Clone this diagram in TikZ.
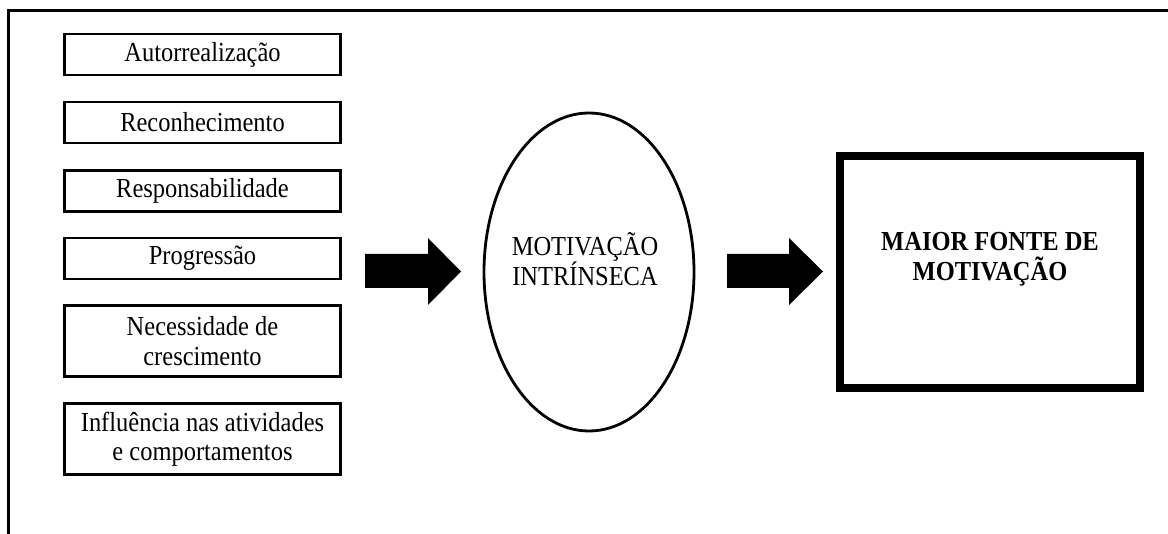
\documentclass[tikz,border=0pt]{standalone}
\usepackage{fontspec}
\setmainfont{Liberation Serif}[FakeStretch=0.89]
\usetikzlibrary{shapes.geometric}
\begin{document}
\begin{tikzpicture}[x=1pt,y=-1pt,
  every node/.style={font=\fontsize{27.5}{29.5}\selectfont, inner sep=0pt, align=center},
  factor/.style={draw, line width=2.6pt, minimum width=276pt, minimum height=41pt},
  tallfactor/.style={factor, minimum height=71pt},
  blockarrow/.style={fill=black}]
  \useasboundingbox (0,0) rectangle (1168,534);
  % frame lines along the top and left edges
  \draw[line width=3pt] (8.5,534) -- (8.5,11) -- (1168,11);

  % factor boxes
  \node[factor] (auto) at (202.5,54.5) {Autorrealização};
  \node[factor] (reco) at (202.5,122.5) {Reconhecimento};
  \node[factor] (resp) at (202.5,191) {Responsabilidade};
  \node[factor] (prog) at (202.5,258.5) {Progressão};
  \node[tallfactor] (nece) at (202.5,341) {Necessidade de\\crescimento};
  \node[tallfactor] (infl) at (202.5,439) {Influência nas atividades\\e comportamentos};

  % intrinsic motivation ellipse
  \node[ellipse, draw, line width=2.8pt, minimum width=210pt, minimum height=318pt] (mi) at (589,272) {};
  \node (mitext) at (585,259) {MOTIVAÇÃO\\INTRÍNSECA};

  % result box
  \node[draw, line width=8pt, minimum width=300pt, minimum height=232pt] (fonte) at (990,272) {};
  \node[font=\fontsize{27.5}{29.5}\selectfont\bfseries] (fontetext) at (990,259) {MAIOR FONTE DE\\MOTIVAÇÃO};

  % block arrows
  \fill[blockarrow] (365,254) -- (428,254) -- (428,238) -- (461,271.5) -- (428,305) -- (428,288) -- (365,288) -- cycle;
  \fill[blockarrow] (727,254) -- (789,254) -- (789,238) -- (823,271.5) -- (789,305) -- (789,288) -- (727,288) -- cycle;
\end{tikzpicture}
\end{document}
